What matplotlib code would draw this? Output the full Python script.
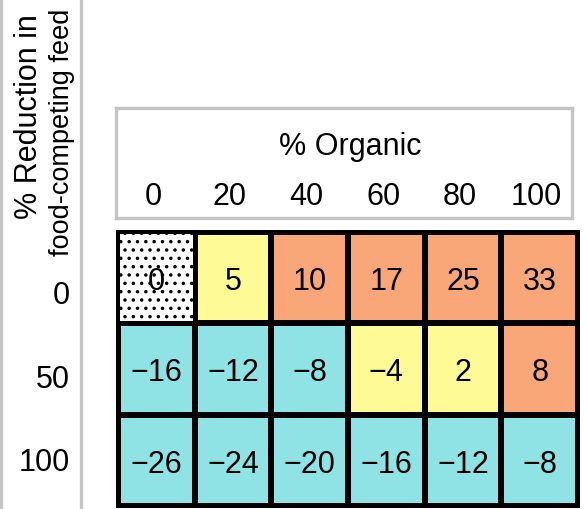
import matplotlib
matplotlib.use("Agg")
import matplotlib.pyplot as plt
import numpy as np
from matplotlib.colors import ListedColormap
from matplotlib.transforms import blended_transform_factory

# ---------------- data ----------------
organic_pct = ["0", "20", "40", "60", "80", "100"]
reduction_pct = ["0", "50", "100"]
values = [
    [0, 5, 10, 17, 25, 33],
    [-16, -12, -8, -4, 2, 8],
    [-26, -24, -20, -16, -12, -8],
]
# category per cell: 0 = baseline (dotted), 1 = yellow, 2 = orange, 3 = cyan
categories = [
    [0, 1, 2, 2, 2, 2],
    [3, 3, 3, 1, 1, 2],
    [3, 3, 3, 3, 3, 3],
]
x_title = "% Organic"
y_title_line1 = "% Reduction in"
y_title_line2 = "food-competing feed"

# ---------------- style ----------------
W, H = 585, 510
DPI = 100
FONT = ["Liberation Sans", "DejaVu Sans"]
FS = 22
ORANGE = "#F9A678"
YELLOW = "#FEFB97"
CYAN = "#8FE3E5"
GRAY = "#C4C4C4"

plt.rcParams["font.family"] = FONT
plt.rcParams["hatch.linewidth"] = 1.3


def fx(px):
    return px / W


def fy(py):
    return 1 - py / H


fig = plt.figure(figsize=(W / DPI, H / DPI), dpi=DPI)
fig.patch.set_facecolor("white")

# left label panel (gray box)
axl = fig.add_axes([fx(1), -0.05, fx(81) - fx(1), 1.1])
axl.set_xticks([])
axl.set_yticks([])
for s in ["top", "bottom"]:
    axl.spines[s].set_visible(False)
for s in ["left", "right"]:
    axl.spines[s].set_color(GRAY)
    axl.spines[s].set_linewidth(2.4)
axl.patch.set_alpha(0)

# top header box
axt = fig.add_axes([fx(116.5), fy(219), fx(571.5) - fx(116.5), fy(109) - fy(219)])
axt.set_xticks([])
axt.set_yticks([])
for s in axt.spines.values():
    s.set_color(GRAY)
    s.set_linewidth(2.4)

# main heatmap
ax = fig.add_axes([fx(118), fy(507), fx(578) - fx(118), fy(233) - fy(507)])
vals = np.array(values)
cats = np.array(categories)
nrow, ncol = vals.shape
cmap = ListedColormap(["white", YELLOW, ORANGE, CYAN])
ax.pcolormesh(np.arange(ncol + 1), np.arange(nrow + 1), cats, cmap=cmap,
              vmin=-0.5, vmax=3.5, edgecolors="black", linewidth=2.9)
# dotted baseline cell
for r in range(nrow):
    for c in range(ncol):
        if cats[r, c] == 0:
            ax.bar(c, 1, width=1, bottom=r, align="edge", facecolor="white",
                   edgecolor="black", hatch="..", linewidth=2.9)
ax.set_xlim(0, ncol)
ax.set_ylim(nrow, 0)
ax.set_xticks([])
ax.set_yticks([])
for s in ax.spines.values():
    s.set_linewidth(2.9)
    s.set_color("black")

for r in range(nrow):
    for c in range(ncol):
        v = vals[r, c]
        txt = str(v) if v >= 0 else "\u2212" + str(-v)
        ax.text(c + 0.5, r + 0.5, txt, ha="center", va="center_baseline",
                fontsize=FS, color="black")

# column labels (aligned with heatmap columns)
tr = blended_transform_factory(ax.transData, fig.transFigure)
for c, lab in enumerate(organic_pct):
    ax.text(c + 0.46, fy(194), lab, transform=tr, ha="center",
            va="center_baseline", fontsize=FS, clip_on=False)
fig.text(fx(350), fy(143), x_title, ha="center", va="center_baseline", fontsize=FS)

# row labels
row_label_y_px = [293, 377, 460]
for lab, py in zip(reduction_pct, row_label_y_px):
    fig.text(fx(70), fy(py), lab, ha="right", va="center_baseline", fontsize=FS)

# rotated y title (two lines)
fig.text(fx(29), fy(117), y_title_line1, rotation=90, ha="center", va="center",
         fontsize=FS)
fig.text(fx(62), fy(132), y_title_line2, rotation=90, ha="center", va="center",
         fontsize=19.5)

fig.savefig("out.png", dpi=DPI)
